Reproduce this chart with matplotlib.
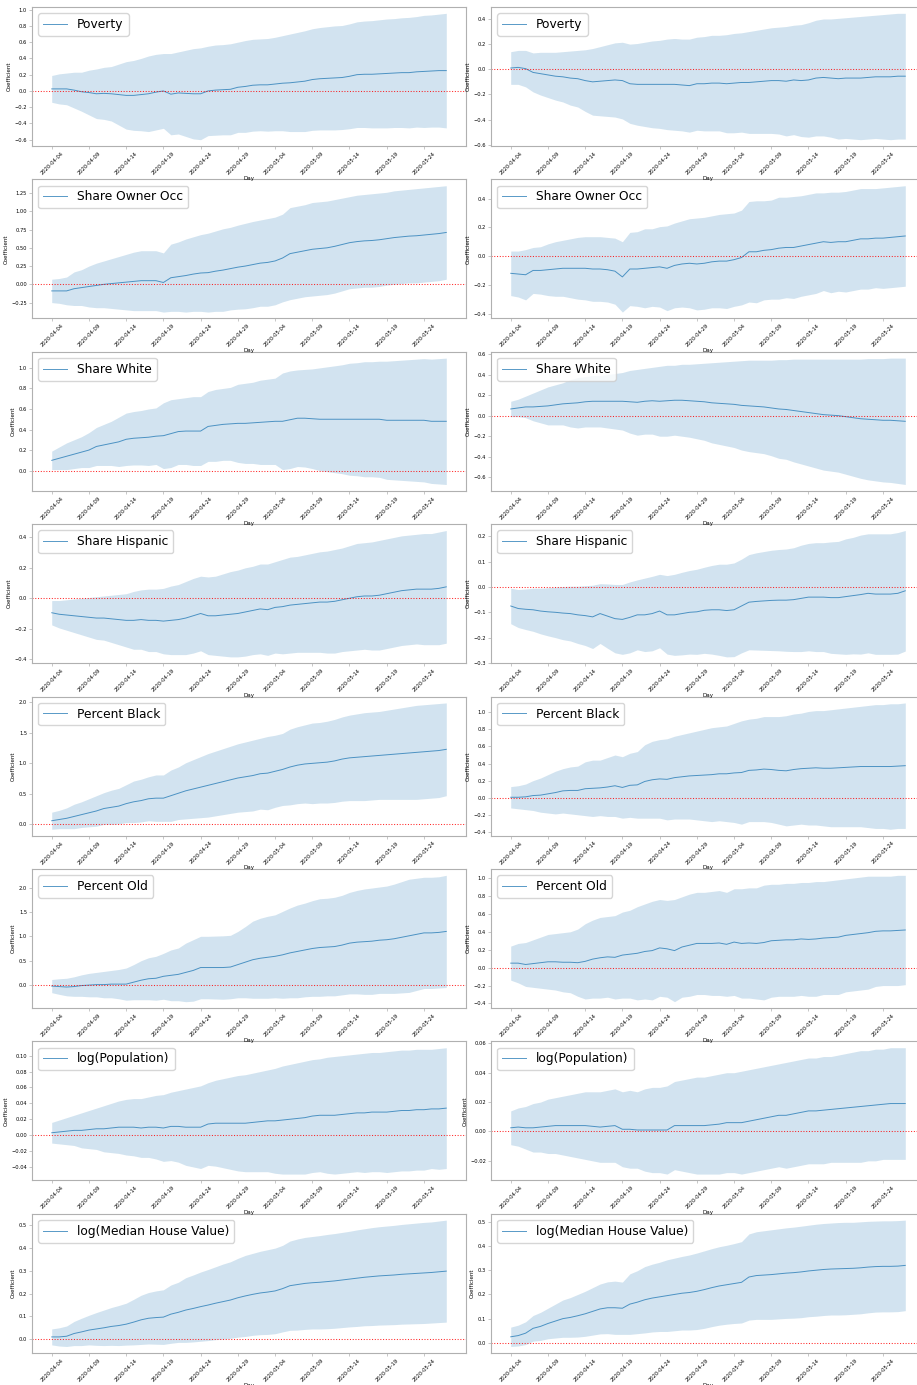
import numpy as np
import pandas as pd
import matplotlib
matplotlib.use("Agg")
import matplotlib.pyplot as plt
import matplotlib.dates as mdates

days = pd.date_range("2020-04-04", "2020-05-27", freq="D")
tick_days = days[::5]

variables = ["Poverty", "Share Owner Occ", "Share White", "Share Hispanic",
             "Percent Black", "Percent Old", "log(Population)",
             "log(Median House Value)"]

# point estimates and 95% CI half-widths, left column / right column
poverty_l_coef = [0.025, 0.025, 0.025, 0.01, -0.01, -0.02, -0.035, -0.03, -0.035, -0.045, -0.055, -0.055, -0.045, -0.035, -0.015, 0.0, -0.04, -0.025, -0.03, -0.035, -0.035, 0.0, 0.01, 0.015, 0.02, 0.045, 0.055, 0.07, 0.075, 0.075, 0.085, 0.095, 0.1, 0.11, 0.12, 0.14, 0.15, 0.155, 0.16, 0.165, 0.18, 0.2, 0.205, 0.205, 0.21, 0.215, 0.22, 0.225, 0.225, 0.235, 0.24, 0.245, 0.25, 0.25]
poverty_l_ci = [0.165, 0.185, 0.195, 0.22, 0.24, 0.275, 0.305, 0.32, 0.335, 0.375, 0.415, 0.43, 0.445, 0.465, 0.465, 0.46, 0.5, 0.505, 0.53, 0.555, 0.565, 0.55, 0.555, 0.555, 0.56, 0.555, 0.565, 0.565, 0.565, 0.57, 0.575, 0.585, 0.6, 0.61, 0.62, 0.625, 0.63, 0.635, 0.64, 0.64, 0.645, 0.65, 0.655, 0.66, 0.665, 0.67, 0.67, 0.675, 0.68, 0.68, 0.69, 0.69, 0.695, 0.705]
poverty_r_coef = [0.01, 0.015, 0.005, -0.025, -0.035, -0.045, -0.055, -0.06, -0.07, -0.075, -0.09, -0.1, -0.095, -0.09, -0.085, -0.09, -0.115, -0.12, -0.12, -0.12, -0.12, -0.12, -0.12, -0.125, -0.13, -0.115, -0.115, -0.11, -0.11, -0.115, -0.11, -0.105, -0.105, -0.1, -0.095, -0.09, -0.09, -0.095, -0.085, -0.09, -0.085, -0.07, -0.065, -0.07, -0.075, -0.07, -0.07, -0.07, -0.065, -0.06, -0.06, -0.06, -0.055, -0.055]
poverty_r_ci = [0.13, 0.135, 0.145, 0.155, 0.17, 0.18, 0.19, 0.2, 0.215, 0.225, 0.245, 0.265, 0.275, 0.285, 0.295, 0.305, 0.315, 0.325, 0.335, 0.345, 0.35, 0.36, 0.365, 0.365, 0.37, 0.37, 0.375, 0.38, 0.38, 0.39, 0.395, 0.395, 0.405, 0.41, 0.415, 0.42, 0.425, 0.435, 0.435, 0.445, 0.455, 0.46, 0.465, 0.47, 0.48, 0.48, 0.485, 0.49, 0.49, 0.49, 0.495, 0.5, 0.5, 0.5]

owner_l_coef = [-0.09, -0.09, -0.09, -0.06, -0.045, -0.03, -0.015, 0.0, 0.01, 0.02, 0.03, 0.04, 0.05, 0.05, 0.05, 0.025, 0.09, 0.105, 0.12, 0.14, 0.155, 0.16, 0.18, 0.195, 0.215, 0.235, 0.25, 0.27, 0.29, 0.3, 0.32, 0.36, 0.42, 0.44, 0.46, 0.48, 0.49, 0.5, 0.52, 0.545, 0.57, 0.585, 0.595, 0.6, 0.61, 0.625, 0.64, 0.65, 0.66, 0.665, 0.675, 0.685, 0.695, 0.71]
owner_l_ci = [0.16, 0.17, 0.19, 0.23, 0.245, 0.28, 0.305, 0.32, 0.34, 0.36, 0.38, 0.4, 0.41, 0.41, 0.41, 0.405, 0.46, 0.475, 0.5, 0.51, 0.525, 0.54, 0.55, 0.565, 0.565, 0.575, 0.585, 0.59, 0.59, 0.6, 0.6, 0.6, 0.63, 0.63, 0.63, 0.64, 0.64, 0.64, 0.64, 0.635, 0.63, 0.635, 0.635, 0.64, 0.64, 0.635, 0.64, 0.64, 0.64, 0.645, 0.645, 0.645, 0.645, 0.64]
owner_r_coef = [-0.12, -0.125, -0.13, -0.1, -0.1, -0.095, -0.09, -0.085, -0.085, -0.085, -0.085, -0.09, -0.09, -0.095, -0.105, -0.145, -0.09, -0.09, -0.085, -0.08, -0.075, -0.085, -0.065, -0.055, -0.05, -0.055, -0.05, -0.04, -0.035, -0.035, -0.025, -0.01, 0.03, 0.03, 0.04, 0.045, 0.055, 0.06, 0.06, 0.07, 0.08, 0.09, 0.1, 0.095, 0.1, 0.1, 0.11, 0.12, 0.12, 0.125, 0.125, 0.13, 0.135, 0.14]
owner_r_ci = [0.155, 0.16, 0.175, 0.16, 0.165, 0.18, 0.19, 0.195, 0.205, 0.215, 0.22, 0.225, 0.225, 0.225, 0.23, 0.245, 0.255, 0.26, 0.275, 0.27, 0.28, 0.295, 0.295, 0.3, 0.31, 0.32, 0.32, 0.32, 0.325, 0.33, 0.325, 0.33, 0.35, 0.355, 0.345, 0.345, 0.355, 0.35, 0.355, 0.35, 0.35, 0.35, 0.34, 0.35, 0.345, 0.35, 0.35, 0.35, 0.35, 0.345, 0.35, 0.35, 0.35, 0.35]

white_l_coef = [0.1, 0.12, 0.14, 0.16, 0.18, 0.2, 0.235, 0.25, 0.265, 0.28, 0.305, 0.315, 0.32, 0.325, 0.335, 0.34, 0.36, 0.38, 0.385, 0.385, 0.385, 0.43, 0.44, 0.45, 0.455, 0.46, 0.46, 0.465, 0.47, 0.475, 0.48, 0.48, 0.495, 0.51, 0.51, 0.505, 0.5, 0.5, 0.5, 0.5, 0.5, 0.5, 0.5, 0.5, 0.5, 0.49, 0.49, 0.49, 0.49, 0.49, 0.49, 0.48, 0.48, 0.48]
white_l_ci = [0.09, 0.11, 0.13, 0.14, 0.15, 0.17, 0.185, 0.2, 0.215, 0.24, 0.255, 0.26, 0.265, 0.275, 0.275, 0.32, 0.33, 0.32, 0.325, 0.335, 0.335, 0.34, 0.35, 0.35, 0.355, 0.38, 0.39, 0.395, 0.41, 0.415, 0.42, 0.47, 0.475, 0.47, 0.475, 0.485, 0.5, 0.51, 0.52, 0.53, 0.545, 0.55, 0.56, 0.56, 0.565, 0.575, 0.58, 0.585, 0.59, 0.595, 0.6, 0.605, 0.61, 0.615]
white_r_coef = [0.065, 0.075, 0.085, 0.085, 0.09, 0.095, 0.105, 0.115, 0.12, 0.125, 0.135, 0.14, 0.14, 0.14, 0.14, 0.14, 0.135, 0.13, 0.14, 0.145, 0.14, 0.145, 0.15, 0.15, 0.145, 0.14, 0.135, 0.125, 0.12, 0.115, 0.11, 0.1, 0.095, 0.09, 0.085, 0.075, 0.065, 0.06, 0.05, 0.04, 0.03, 0.02, 0.01, 0.005, 0.0, -0.01, -0.02, -0.03, -0.035, -0.04, -0.045, -0.045, -0.05, -0.055]
white_r_ci = [0.075, 0.085, 0.105, 0.135, 0.16, 0.185, 0.195, 0.205, 0.23, 0.245, 0.245, 0.25, 0.25, 0.26, 0.27, 0.28, 0.305, 0.32, 0.32, 0.325, 0.34, 0.345, 0.34, 0.35, 0.355, 0.365, 0.375, 0.39, 0.4, 0.41, 0.42, 0.435, 0.445, 0.45, 0.455, 0.465, 0.48, 0.485, 0.5, 0.51, 0.52, 0.53, 0.54, 0.545, 0.55, 0.56, 0.57, 0.58, 0.59, 0.595, 0.6, 0.605, 0.61, 0.615]

hisp_l_coef = [-0.095, -0.105, -0.11, -0.115, -0.12, -0.125, -0.13, -0.13, -0.135, -0.14, -0.145, -0.145, -0.14, -0.145, -0.145, -0.15, -0.145, -0.14, -0.13, -0.115, -0.1, -0.115, -0.115, -0.11, -0.105, -0.1, -0.09, -0.08, -0.07, -0.075, -0.06, -0.055, -0.045, -0.04, -0.035, -0.03, -0.025, -0.025, -0.02, -0.01, 0.0, 0.01, 0.015, 0.015, 0.02, 0.03, 0.04, 0.05, 0.055, 0.06, 0.06, 0.06, 0.065, 0.075]
hisp_l_ci = [0.08, 0.09, 0.1, 0.11, 0.12, 0.13, 0.14, 0.145, 0.155, 0.165, 0.175, 0.19, 0.195, 0.205, 0.205, 0.215, 0.225, 0.23, 0.24, 0.245, 0.245, 0.255, 0.26, 0.27, 0.28, 0.285, 0.29, 0.29, 0.295, 0.3, 0.3, 0.31, 0.315, 0.315, 0.32, 0.325, 0.33, 0.335, 0.34, 0.34, 0.345, 0.35, 0.35, 0.355, 0.36, 0.36, 0.36, 0.36, 0.36, 0.36, 0.365, 0.365, 0.37, 0.37]
hisp_r_coef = [-0.075, -0.085, -0.088, -0.09, -0.095, -0.098, -0.1, -0.103, -0.105, -0.11, -0.113, -0.118, -0.105, -0.115, -0.125, -0.128, -0.12, -0.11, -0.11, -0.105, -0.095, -0.11, -0.11, -0.105, -0.1, -0.098, -0.092, -0.09, -0.09, -0.093, -0.09, -0.075, -0.06, -0.057, -0.055, -0.053, -0.052, -0.052, -0.05, -0.045, -0.04, -0.04, -0.04, -0.042, -0.042, -0.038, -0.034, -0.03, -0.025, -0.028, -0.028, -0.028, -0.025, -0.015]
hisp_r_ci = [0.07, 0.075, 0.08, 0.085, 0.09, 0.095, 0.1, 0.105, 0.108, 0.113, 0.118, 0.125, 0.118, 0.127, 0.135, 0.138, 0.14, 0.138, 0.145, 0.147, 0.145, 0.155, 0.16, 0.163, 0.165, 0.168, 0.17, 0.175, 0.18, 0.183, 0.185, 0.185, 0.188, 0.192, 0.195, 0.198, 0.2, 0.202, 0.205, 0.21, 0.212, 0.215, 0.215, 0.22, 0.222, 0.228, 0.23, 0.235, 0.235, 0.238, 0.238, 0.238, 0.24, 0.238]

black_l_coef = [0.06, 0.08, 0.1, 0.13, 0.16, 0.19, 0.22, 0.26, 0.28, 0.3, 0.34, 0.37, 0.39, 0.42, 0.43, 0.43, 0.47, 0.51, 0.55, 0.58, 0.61, 0.64, 0.67, 0.7, 0.73, 0.76, 0.78, 0.8, 0.83, 0.84, 0.87, 0.9, 0.94, 0.97, 0.99, 1.0, 1.01, 1.02, 1.04, 1.07, 1.09, 1.1, 1.11, 1.12, 1.13, 1.14, 1.15, 1.16, 1.17, 1.18, 1.19, 1.2, 1.21, 1.23]
black_l_ci = [0.14, 0.15, 0.17, 0.2, 0.21, 0.23, 0.25, 0.26, 0.28, 0.29, 0.31, 0.34, 0.35, 0.36, 0.38, 0.38, 0.42, 0.43, 0.46, 0.48, 0.5, 0.52, 0.53, 0.54, 0.55, 0.56, 0.57, 0.58, 0.58, 0.6, 0.59, 0.59, 0.62, 0.63, 0.64, 0.66, 0.66, 0.67, 0.68, 0.69, 0.7, 0.71, 0.72, 0.72, 0.72, 0.73, 0.74, 0.75, 0.76, 0.77, 0.77, 0.77, 0.77, 0.76]
black_r_coef = [0.005, 0.005, 0.01, 0.025, 0.03, 0.045, 0.06, 0.08, 0.085, 0.085, 0.105, 0.11, 0.115, 0.125, 0.14, 0.12, 0.145, 0.15, 0.19, 0.21, 0.22, 0.215, 0.235, 0.245, 0.255, 0.26, 0.265, 0.27, 0.28, 0.28, 0.29, 0.295, 0.32, 0.325, 0.335, 0.33, 0.32, 0.315, 0.33, 0.34, 0.345, 0.35, 0.345, 0.345, 0.35, 0.355, 0.36, 0.365, 0.365, 0.365, 0.365, 0.365, 0.37, 0.375]
black_r_ci = [0.125, 0.135, 0.15, 0.175, 0.2, 0.225, 0.25, 0.26, 0.275, 0.285, 0.315, 0.33, 0.325, 0.345, 0.36, 0.36, 0.375, 0.39, 0.43, 0.45, 0.46, 0.475, 0.485, 0.495, 0.505, 0.52, 0.535, 0.55, 0.55, 0.56, 0.58, 0.605, 0.6, 0.605, 0.615, 0.62, 0.63, 0.645, 0.65, 0.65, 0.665, 0.67, 0.675, 0.685, 0.69, 0.695, 0.7, 0.705, 0.715, 0.725, 0.725, 0.735, 0.73, 0.735]

old_l_coef = [-0.02, -0.03, -0.04, -0.03, -0.01, 0.0, 0.01, 0.01, 0.02, 0.02, 0.02, 0.06, 0.1, 0.13, 0.14, 0.18, 0.2, 0.22, 0.26, 0.3, 0.36, 0.36, 0.36, 0.36, 0.37, 0.42, 0.47, 0.52, 0.55, 0.57, 0.59, 0.62, 0.66, 0.69, 0.72, 0.75, 0.77, 0.78, 0.79, 0.82, 0.86, 0.88, 0.89, 0.9, 0.92, 0.93, 0.95, 0.98, 1.01, 1.04, 1.07, 1.07, 1.08, 1.1]
old_l_ci = [0.135, 0.16, 0.18, 0.2, 0.22, 0.24, 0.25, 0.27, 0.28, 0.3, 0.33, 0.36, 0.4, 0.43, 0.45, 0.47, 0.52, 0.54, 0.6, 0.63, 0.64, 0.64, 0.645, 0.65, 0.65, 0.68, 0.73, 0.79, 0.82, 0.84, 0.85, 0.89, 0.92, 0.95, 0.96, 0.98, 1.0, 1.0, 1.01, 1.02, 1.04, 1.06, 1.08, 1.09, 1.09, 1.1, 1.12, 1.14, 1.16, 1.15, 1.14, 1.14, 1.14, 1.15]
old_r_coef = [0.05, 0.05, 0.035, 0.045, 0.055, 0.065, 0.065, 0.06, 0.06, 0.055, 0.07, 0.095, 0.11, 0.12, 0.115, 0.14, 0.15, 0.16, 0.18, 0.19, 0.22, 0.21, 0.19, 0.23, 0.25, 0.27, 0.27, 0.27, 0.275, 0.26, 0.285, 0.27, 0.275, 0.27, 0.28, 0.3, 0.305, 0.31, 0.31, 0.32, 0.315, 0.32, 0.33, 0.335, 0.34, 0.36, 0.37, 0.38, 0.39, 0.405, 0.41, 0.41, 0.415, 0.42]
old_r_ci = [0.19, 0.22, 0.245, 0.265, 0.285, 0.305, 0.315, 0.33, 0.34, 0.375, 0.42, 0.435, 0.45, 0.45, 0.465, 0.48, 0.49, 0.52, 0.53, 0.55, 0.54, 0.54, 0.57, 0.56, 0.57, 0.57, 0.57, 0.58, 0.585, 0.58, 0.595, 0.61, 0.615, 0.62, 0.64, 0.63, 0.625, 0.63, 0.63, 0.63, 0.635, 0.64, 0.63, 0.635, 0.64, 0.63, 0.63, 0.63, 0.63, 0.615, 0.61, 0.61, 0.615, 0.61]

pop_l_coef = [0.003, 0.004, 0.005, 0.006, 0.006, 0.007, 0.008, 0.008, 0.009, 0.01, 0.01, 0.01, 0.009, 0.01, 0.01, 0.009, 0.011, 0.011, 0.01, 0.01, 0.01, 0.014, 0.015, 0.015, 0.015, 0.015, 0.015, 0.016, 0.017, 0.018, 0.018, 0.019, 0.02, 0.021, 0.022, 0.024, 0.025, 0.025, 0.025, 0.026, 0.027, 0.028, 0.028, 0.029, 0.029, 0.029, 0.03, 0.031, 0.031, 0.032, 0.032, 0.033, 0.033, 0.034]
pop_l_ci = [0.013, 0.015, 0.017, 0.019, 0.022, 0.024, 0.026, 0.029, 0.031, 0.033, 0.035, 0.036, 0.037, 0.038, 0.04, 0.042, 0.043, 0.045, 0.048, 0.05, 0.052, 0.052, 0.054, 0.056, 0.058, 0.06, 0.061, 0.062, 0.063, 0.064, 0.066, 0.068, 0.069, 0.07, 0.071, 0.071, 0.071, 0.073, 0.074, 0.074, 0.074, 0.074, 0.075, 0.075, 0.075, 0.076, 0.076, 0.076, 0.076, 0.076, 0.076, 0.075, 0.076, 0.076]
pop_r_coef = [0.0025, 0.003, 0.0025, 0.0025, 0.003, 0.0035, 0.004, 0.004, 0.004, 0.004, 0.004, 0.0035, 0.003, 0.0035, 0.004, 0.0015, 0.0015, 0.001, 0.001, 0.001, 0.001, 0.001, 0.004, 0.004, 0.004, 0.004, 0.004, 0.0045, 0.005, 0.006, 0.006, 0.006, 0.007, 0.008, 0.009, 0.01, 0.011, 0.011, 0.012, 0.013, 0.014, 0.014, 0.0145, 0.015, 0.0155, 0.016, 0.0165, 0.017, 0.0175, 0.018, 0.0185, 0.019, 0.019, 0.019]
pop_r_ci = [0.0115, 0.013, 0.0145, 0.0165, 0.017, 0.0185, 0.019, 0.02, 0.021, 0.022, 0.023, 0.0235, 0.024, 0.0245, 0.025, 0.0255, 0.0265, 0.026, 0.028, 0.029, 0.029, 0.03, 0.03, 0.031, 0.032, 0.033, 0.033, 0.0335, 0.034, 0.034, 0.034, 0.035, 0.035, 0.035, 0.035, 0.035, 0.035, 0.036, 0.036, 0.036, 0.036, 0.036, 0.0365, 0.036, 0.0365, 0.037, 0.0375, 0.038, 0.0375, 0.038, 0.0375, 0.038, 0.038, 0.038]

house_l_coef = [0.01, 0.01, 0.013, 0.025, 0.032, 0.04, 0.045, 0.05, 0.056, 0.06, 0.066, 0.075, 0.085, 0.092, 0.095, 0.097, 0.11, 0.118, 0.128, 0.135, 0.143, 0.15, 0.158, 0.165, 0.172, 0.182, 0.19, 0.197, 0.203, 0.207, 0.212, 0.222, 0.235, 0.24, 0.245, 0.248, 0.25, 0.253, 0.256, 0.26, 0.264, 0.268, 0.272, 0.275, 0.278, 0.28, 0.282, 0.285, 0.287, 0.289, 0.291, 0.293, 0.296, 0.299]
house_l_ci = [0.035, 0.04, 0.045, 0.053, 0.06, 0.065, 0.072, 0.078, 0.083, 0.088, 0.092, 0.1, 0.108, 0.113, 0.117, 0.12, 0.128, 0.132, 0.142, 0.147, 0.152, 0.156, 0.16, 0.165, 0.168, 0.173, 0.178, 0.18, 0.183, 0.186, 0.188, 0.19, 0.196, 0.2, 0.202, 0.203, 0.205, 0.207, 0.208, 0.209, 0.21, 0.212, 0.213, 0.215, 0.216, 0.217, 0.218, 0.219, 0.22, 0.221, 0.222, 0.222, 0.223, 0.224]
house_r_coef = [0.025, 0.03, 0.04, 0.06, 0.068, 0.08, 0.09, 0.1, 0.105, 0.112, 0.12, 0.13, 0.14, 0.145, 0.145, 0.143, 0.16, 0.168, 0.178, 0.185, 0.19, 0.195, 0.2, 0.205, 0.208, 0.213, 0.22, 0.228, 0.235, 0.24, 0.245, 0.25, 0.272, 0.278, 0.28, 0.282, 0.285, 0.288, 0.29, 0.293, 0.297, 0.3, 0.303, 0.305, 0.306, 0.307, 0.308, 0.31, 0.313, 0.315, 0.316, 0.316, 0.317, 0.32]
house_r_ci = [0.04, 0.043, 0.047, 0.053, 0.058, 0.063, 0.07, 0.077, 0.082, 0.088, 0.093, 0.098, 0.103, 0.107, 0.11, 0.108, 0.125, 0.13, 0.137, 0.14, 0.143, 0.148, 0.15, 0.152, 0.155, 0.158, 0.16, 0.161, 0.162, 0.163, 0.165, 0.168, 0.178, 0.181, 0.183, 0.185, 0.186, 0.187, 0.188, 0.189, 0.189, 0.19, 0.19, 0.19, 0.191, 0.191, 0.19, 0.19, 0.189, 0.188, 0.188, 0.188, 0.188, 0.187]

left_coefs = [poverty_l_coef, owner_l_coef, white_l_coef, hisp_l_coef,
              black_l_coef, old_l_coef, pop_l_coef, house_l_coef]
left_cis = [poverty_l_ci, owner_l_ci, white_l_ci, hisp_l_ci,
            black_l_ci, old_l_ci, pop_l_ci, house_l_ci]
right_coefs = [poverty_r_coef, owner_r_coef, white_r_coef, hisp_r_coef,
               black_r_coef, old_r_coef, pop_r_coef, house_r_coef]
right_cis = [poverty_r_ci, owner_r_ci, white_r_ci, hisp_r_ci,
             black_r_ci, old_r_ci, pop_r_ci, house_r_ci]

W, H = 917, 1385
fig = plt.figure(figsize=(W / 100, H / 100), dpi=100)

col_left = [32, 491]
ax_w, ax_h = 434, 139
row_top0, row_step = 7, 172.4
spine_col = "#b0b0b0"


def draw_panel(ax, label, coef, ci):
    coef = np.asarray(coef)
    ci = np.asarray(ci)
    ax.plot(days, coef, color="C0", lw=0.7, alpha=0.75, label=label)
    ax.fill_between(days, coef - ci, coef + ci, color="C0", alpha=0.2, lw=0)
    ax.axhline(0, color="red", ls=":", lw=0.75, alpha=0.85)
    ax.set_xticks(tick_days)
    ax.xaxis.set_major_formatter(mdates.DateFormatter("%Y-%m-%d"))
    ax.tick_params(axis="x", labelrotation=45)
    ax.tick_params(labelsize=3.7, length=2.5, width=0.5, color=spine_col,
                   pad=1)
    ax.set_xlabel("Day", fontsize=4, labelpad=0)
    ax.set_ylabel("Coefficient", fontsize=4, labelpad=2)
    for s in ax.spines.values():
        s.set_color(spine_col)
        s.set_linewidth(0.8)
    ax.legend(loc="upper left", fontsize=8.8, handlelength=2)


for i, label in enumerate(variables):
    top = row_top0 + i * row_step
    y0 = 1 - (top + ax_h) / H
    for j, (coefs, cis) in enumerate([(left_coefs, left_cis),
                                      (right_coefs, right_cis)]):
        ax = fig.add_axes([col_left[j] / W, y0, ax_w / W, ax_h / H])
        ax.set_zorder(10 - i)
        draw_panel(ax, label, coefs[i], cis[i])

fig.savefig("out.png", dpi=100)
